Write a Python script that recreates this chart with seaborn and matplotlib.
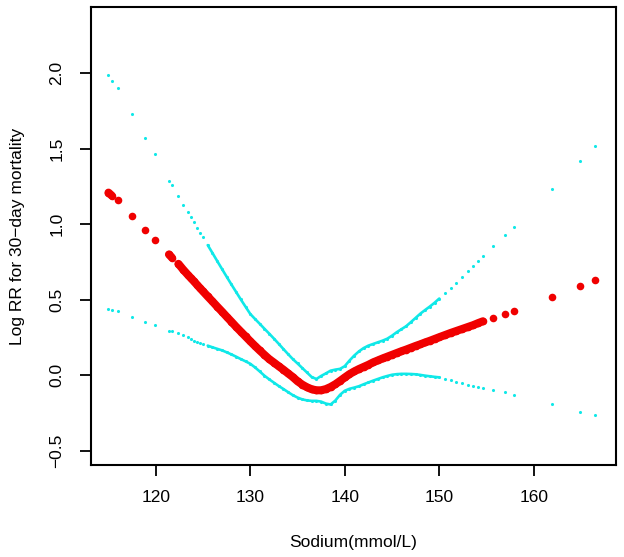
import numpy as np
import pandas as pd
import matplotlib
matplotlib.use("Agg")
import matplotlib.pyplot as plt
import seaborn as sns

# ---------------- data ----------------
sodium = [115.0, 115.35, 116.0, 117.5, 118.9, 119.9, 121.4, 121.7, 122.4, 122.9,
          123.4, 123.7, 124.0, 124.4, 124.7,
          125.0, 125.5, 126.0, 126.5, 127.0, 127.5, 128.0, 128.5, 129.0, 129.5,
          130.0, 130.5, 131.0, 131.5, 132.0, 132.5, 133.0, 133.5, 134.0, 134.5,
          135.0, 135.5, 136.0, 136.5, 137.0, 137.5, 138.0, 138.5, 139.0, 139.5,
          140.0, 140.5, 141.0, 141.5, 142.0, 142.5, 143.0, 143.5, 144.0, 144.5,
          145.0, 145.5, 146.0, 146.5, 147.0, 147.5, 148.0, 148.5, 149.0, 149.5,
          150.0, 150.6, 151.2, 151.8, 152.4, 153.0, 153.6, 154.1, 154.6,
          155.7, 157.0, 157.9, 161.9, 164.9, 166.5]

log_rr = [1.21, 1.19, 1.16, 1.056, 0.963, 0.897, 0.80, 0.78, 0.738, 0.70,
          0.665, 0.645, 0.625, 0.597, 0.576,
          0.556, 0.522, 0.489, 0.455, 0.422, 0.388, 0.355, 0.321, 0.289, 0.257,
          0.225, 0.194, 0.164, 0.135, 0.107, 0.084, 0.060, 0.037, 0.012, -0.012,
          -0.040, -0.062, -0.080, -0.093, -0.100, -0.100, -0.092, -0.078, -0.060, -0.038,
          -0.015, 0.007, 0.025, 0.041, 0.055, 0.069, 0.085, 0.098, 0.111, 0.123,
          0.135, 0.147, 0.159, 0.170, 0.182, 0.194, 0.205, 0.217, 0.228, 0.240,
          0.252, 0.266, 0.280, 0.293, 0.306, 0.319, 0.332, 0.345, 0.357,
          0.377, 0.406, 0.426, 0.521, 0.592, 0.629]

upper = [1.99, 1.95, 1.90, 1.73, 1.574, 1.463, 1.29, 1.26, 1.19, 1.13,
         1.08, 1.05, 1.015, 0.975, 0.945,
         0.915, 0.862, 0.810, 0.757, 0.705, 0.653, 0.602, 0.552, 0.502, 0.454,
         0.406, 0.373, 0.341, 0.308, 0.276, 0.243, 0.209, 0.174, 0.140, 0.107,
         0.078, 0.048, 0.018, -0.012, -0.025, -0.005, 0.012, 0.030, 0.037, 0.042,
         0.060, 0.097, 0.130, 0.158, 0.180, 0.196, 0.207, 0.218, 0.229, 0.242,
         0.262, 0.285, 0.305, 0.325, 0.352, 0.380, 0.408, 0.432, 0.455, 0.480,
         0.508, 0.545, 0.580, 0.614, 0.650, 0.688, 0.727, 0.760, 0.790,
         0.853, 0.932, 0.983, 1.235, 1.418, 1.52]

lower = [0.44, 0.435, 0.424, 0.389, 0.351, 0.336, 0.296, 0.290, 0.277, 0.265,
         0.250, 0.240, 0.230, 0.218, 0.212,
         0.207, 0.196, 0.185, 0.175, 0.165, 0.152, 0.138, 0.123, 0.107, 0.092,
         0.076, 0.052, 0.025, -0.003, -0.027, -0.049, -0.071, -0.091, -0.112, -0.132,
         -0.148, -0.160, -0.167, -0.170, -0.170, -0.175, -0.188, -0.194, -0.168, -0.130,
         -0.103, -0.090, -0.082, -0.073, -0.060, -0.048, -0.036, -0.025, -0.014, -0.005,
         0.003, 0.007, 0.009, 0.009, 0.008, 0.006, 0.002, -0.003, -0.007, -0.011,
         -0.014, -0.024, -0.034, -0.044, -0.054, -0.063, -0.071, -0.078, -0.085,
         -0.097, -0.110, -0.131, -0.190, -0.241, -0.263]

x_ticks = [120, 130, 140, 150, 160]
y_ticks = [-0.5, 0.0, 0.5, 1.0, 1.5, 2.0]
x_label = "Sodium(mmol/L)"
y_label = "Log RR for 30\u2212day mortality"

# ---------------- build table ----------------
df = pd.DataFrame({"sodium": sodium, "est": log_rr, "upper": upper, "lower": lower})
gap = df["sodium"].diff().fillna(99)
# segments where points are dense enough to merge into a continuous band
df["seg_red"] = (gap > 0.65).cumsum()
dense_ci = (df["sodium"] >= 125.5) & (df["sodium"] <= 150.0)
df_ci = df[dense_ci]

sns.set_theme(style="white")
plt.rcParams["font.family"] = ["Liberation Sans", "DejaVu Sans"]

fig = plt.figure(figsize=(6.24, 5.57), dpi=100)
ax = fig.add_axes([91 / 624, 1 - 465 / 557, 525 / 624, 458 / 557])

RED = "#F00000"
CYAN = "#10E8E8"

# confidence limits
for col in ["upper", "lower"]:
    sns.lineplot(data=df_ci, x="sodium", y=col, color=CYAN, lw=1.9,
                 estimator=None, sort=True, ax=ax, legend=False)
    sns.scatterplot(data=df, x="sodium", y=col, color=CYAN, s=5,
                    linewidth=0, ax=ax, legend=False)

# estimate
sns.lineplot(data=df, x="sodium", y="est", units="seg_red", estimator=None,
             color=RED, lw=5.8, ax=ax, legend=False, solid_capstyle="round")
sns.scatterplot(data=df, x="sodium", y="est", color=RED, s=30,
                linewidth=0, ax=ax, legend=False)

ax.set_xlim(113.15, 168.7)
ax.set_ylim(-0.595, 2.44)
ax.set_xticks(x_ticks)
ax.set_xticklabels([str(t) for t in x_ticks])
ax.set_yticks(y_ticks)
ax.set_yticklabels([f"{t:.1f}".replace("-", "\u2212") for t in y_ticks])

for s in ax.spines.values():
    s.set_visible(True)
    s.set_color("black")
    s.set_linewidth(1.5)

ax.tick_params(axis="both", which="major", direction="out", length=8, width=1.3,
               color="black", labelsize=12.5, labelcolor="black",
               bottom=True, left=True, top=False, right=False)
ax.tick_params(axis="x", pad=10)
ax.tick_params(axis="y", pad=11, labelrotation=90)
for lab in ax.get_yticklabels():
    lab.set_va("center")
    lab.set_ha("right")

ax.set_xlabel(x_label, fontsize=12.5, color="black")
ax.set_ylabel(y_label, fontsize=12.5, color="black")
ax.xaxis.set_label_coords((353 - 91) / 525, (465 - 543) / 458)
ax.xaxis.label.set_va("center")
ax.yaxis.set_label_coords((18 - 91) / 525, 0.5)
ax.yaxis.label.set_va("center")
ax.grid(False)

fig.savefig("out.png", dpi=100, facecolor="white")
